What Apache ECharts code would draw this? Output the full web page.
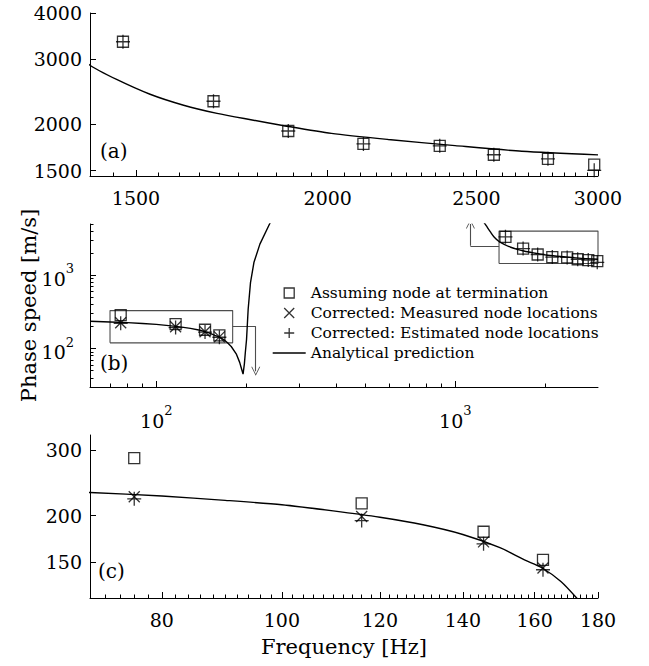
<!DOCTYPE html>
<html><head><meta charset="utf-8">
<script src="https://cdn.jsdelivr.net/npm/echarts@6/dist/echarts.min.js"></script>
<style>html,body{margin:0;padding:0;background:#fff}#c{width:649px;height:666px}</style>
</head><body><div id="c"></div>
<script>
// ---------------- data (Hz, m/s) ----------------
const hfFreq        = [1471, 1685, 1885, 2110, 2366, 2566, 2783, 2983];
const hfAssumed     = [3344, 2309, 1919, 1770, 1750, 1655, 1614, 1556];
const hfEstimated   = [3344, 2309, 1919, 1770, 1750, 1655, 1614, 1502];

const lfFreq        = [76, 116, 145.5, 162.5];
const lfAssumed     = [286, 216, 181, 152];
const lfMeasured    = [225, 199, 170, 144.5];
const lfEstimated   = [222, 194, 168, 143];

const lowBranchFreq  = [60, 70, 80, 90, 100, 110, 120, 130, 140, 150, 157, 162, 168, 173, 178, 185, 190, 193, 195, 197, 198.5, 200.3, 202.8, 206.5, 212, 222, 240, 250];
const lowBranchSpeed = [236, 231, 226, 220, 214, 206, 198, 189, 178, 164, 152, 145, 133, 120, 107, 85, 65, 52, 45, 62, 90, 133, 342, 794, 1493, 2660, 5150, 6500];
const highBranchFreq  = [1230, 1270, 1310, 1350, 1400, 1457, 1532, 1611, 1694, 1782, 1873, 2011, 2190, 2421, 2676, 3000];
const highBranchSpeed = [5700, 4700, 3900, 3300, 2890, 2645, 2412, 2253, 2141, 2058, 1983, 1890, 1820, 1752, 1692, 1654];

// axis ranges
const rangeAx = [1400, 3000], rangeAy = [1450, 4000];
const rangeBx = [60, 3000],   rangeBy = [30, 5000];
const rangeCx = [70, 180],    rangeCy = [120, 330];

// tick values
const ticksAxMajor = [1500, 2000, 2500, 3000];
const ticksAyMajor = [1500, 2000, 3000, 4000];
const ticksBxMajor = [100, 1000];
const ticksBxMinor = [70, 80, 90, 200, 300, 400, 500, 600, 700, 800, 900, 2000];
const ticksByMajor = [100, 1000];
const ticksByMinor = [40, 50, 60, 70, 80, 90, 200, 300, 400, 500, 600, 700, 800, 900, 2000, 3000, 4000, 5000];
const ticksCxMajor = [80, 100, 120, 140, 160, 180];
const ticksCyMajor = [150, 200, 300];
const ticksAxMinor = [];
for (let f = 1450; f < 3000; f += 50) if (f % 500 !== 0) ticksAxMinor.push(f);
const ticksCxMinor = [];
for (let f = 72; f < 180; f += 2) if (f % 20 !== 0) ticksCxMinor.push(f);

// zoom-box arrows in panel (b)
const arrowToCFreq = [180, 215, 215], arrowToCSpeed = [202, 202, 49];
const arrowToAFreq = [1400, 1123, 1123], arrowToASpeed = [2518, 2518, 5000];

// ---------------- helpers ----------------
const L = v => Math.log10(v);
const xy = (xs, ys) => xs.map((x, i) => [L(x), L(ys[i])]);
const FONT = 'DejaVu Serif';
const BLACK = '#000';
const GRAY = '#4d4d4d';
const SQ = 'path://M0,0L10,0L10,10L0,10Z';
const XS = 'path://M0,0L10,10M10,0L0,10';
const PL = 'path://M5,0L5,10M0,5L10,5';
const ARROW = 'path://M0,10L5,0L10,10L9,10L5,2L1,10Z';
const MK = {color: 'transparent', borderColor: BLACK, borderWidth: 1.3};
const RICH = {
  b: {fontFamily: FONT, fontSize: 19, color: BLACK, padding: [7, 0, 0, 0]},
  s: {fontFamily: FONT, fontSize: 13, color: BLACK, verticalAlign: 'top'}
};
const fmtLin = v => String(Math.round(Math.pow(10, v)));
const fmtExp = v => '{b|10}{s|' + Math.round(v) + '}';

function majorAxis(dim, g, range, majors, fmt, margin, extra) {
  return Object.assign({
    type: 'value', gridIndex: g, min: L(range[0]), max: L(range[1]),
    position: dim === 'x' ? 'bottom' : 'left',
    axisLine: {show: true, onZero: false, lineStyle: {color: BLACK, width: 1}},
    axisTick: {show: true, inside: true, length: 6, customValues: majors.map(L), lineStyle: {color: BLACK, width: 1}},
    axisLabel: {show: true, customValues: majors.map(L), formatter: fmt, margin: margin,
      color: BLACK, fontFamily: FONT, fontSize: 19, rich: RICH},
    splitLine: {show: false}
  }, extra || {});
}
function minorAxis(dim, g, range, minors) {
  return {
    type: 'value', gridIndex: g, min: L(range[0]), max: L(range[1]),
    position: dim === 'x' ? 'bottom' : 'left', offset: 0,
    axisLine: {show: false, onZero: false},
    axisTick: {show: minors.length > 0, inside: true, length: 3.5, customValues: minors.map(L), lineStyle: {color: BLACK, width: 1}},
    axisLabel: {show: false}, splitLine: {show: false}
  };
}
function segs(fs, vs) {
  const out = [];
  for (let i = 0; i < fs.length - 1; i++) out.push({coords: [[L(fs[i]), L(vs[i])], [L(fs[i + 1]), L(vs[i + 1])]]});
  return out;
}
function box(rx, ry) {
  return [[rx[0], ry[0]], [rx[1], ry[0]], [rx[1], ry[1]], [rx[0], ry[1]], [rx[0], ry[0]]].map(p => [L(p[0]), L(p[1])]);
}

const NAME_SQ = 'Assuming node at termination';
const NAME_X = 'Corrected: Measured node locations';
const NAME_PL = 'Corrected: Estimated node locations';
const NAME_LINE = 'Analytical prediction';

function curve(name, xi, yi, fs, vs, smooth) {
  return {type: 'line', name: name, xAxisIndex: xi, yAxisIndex: yi, data: xy(fs, vs), symbol: 'none',
    smooth: smooth || false,
    itemStyle: {color: BLACK},
    lineStyle: {color: BLACK, width: 1.4}, clip: true, silent: true, z: 2, animation: false};
}
function marks(name, xi, yi, fs, vs, sym, size) {
  return {type: 'scatter', name: name, xAxisIndex: xi, yAxisIndex: yi, data: xy(fs, vs), symbol: sym,
    symbolSize: size, itemStyle: MK, z: 3, silent: true};
}

const chart = echarts.init(document.getElementById('c'), null, {renderer: 'svg'});
chart.setOption({
  animation: false,
  backgroundColor: '#fff',
  grid: [
    {left: 90, right: 51, top: 13, height: 163},
    {left: 90, right: 51, top: 224, height: 163},
    {left: 90, right: 51, top: 435, height: 163}
  ],
  xAxis: [
    majorAxis('x', 0, rangeAx, ticksAxMajor, fmtLin, 12),
    minorAxis('x', 0, rangeAx, ticksAxMinor),
    majorAxis('x', 1, rangeBx, ticksBxMajor, fmtExp, 17),
    minorAxis('x', 1, rangeBx, ticksBxMinor),
    majorAxis('x', 2, rangeCx, ticksCxMajor, fmtLin, 12, {
      name: 'Frequency [Hz]', nameLocation: 'middle', nameGap: 38,
      nameTextStyle: {fontFamily: FONT, fontSize: 21, color: BLACK}}),
    minorAxis('x', 2, rangeCx, ticksCxMinor)
  ],
  yAxis: [
    majorAxis('y', 0, rangeAy, ticksAyMajor, fmtLin, 8),
    minorAxis('y', 0, rangeAy, []),
    majorAxis('y', 1, rangeBy, ticksByMajor, fmtExp, 16, {
      name: 'Phase speed [m/s]', nameLocation: 'middle', nameGap: 51, nameMoveOverlap: false,
      nameTextStyle: {fontFamily: FONT, fontSize: 21, color: BLACK}}),
    minorAxis('y', 1, rangeBy, ticksByMinor),
    majorAxis('y', 2, rangeCy, ticksCyMajor, fmtLin, 8),
    minorAxis('y', 2, rangeCy, [])
  ],
  legend: {
    show: true, orient: 'vertical', left: 272, top: 285, padding: 0,
    itemWidth: 33, itemHeight: 10, itemGap: 4, selectedMode: false,
    textStyle: {fontFamily: FONT, fontSize: 15.5, color: BLACK},
    data: [
      {name: NAME_SQ, icon: SQ, itemStyle: {color: 'transparent', borderColor: BLACK, borderWidth: 1.3}},
      {name: NAME_X, icon: XS, itemStyle: {color: 'transparent', borderColor: BLACK, borderWidth: 1.3}},
      {name: NAME_PL, icon: PL, itemStyle: {color: 'transparent', borderColor: BLACK, borderWidth: 1.3}},
      {name: NAME_LINE, itemStyle: {opacity: 0}, lineStyle: {color: BLACK, width: 1.4}}
    ]
  },
  graphic: [
    {type: 'text', left: 100, top: 141, silent: true, style: {text: '(a)', font: '20px "DejaVu Serif"', fill: BLACK}},
    {type: 'text', left: 100, top: 353, silent: true, style: {text: '(b)', font: '20px "DejaVu Serif"', fill: BLACK}},
    {type: 'text', left: 98, top: 561, silent: true, style: {text: '(c)', font: '20px "DejaVu Serif"', fill: BLACK}}
  ],
  series: [
    // (a)
    curve(NAME_LINE, 0, 0, highBranchFreq, highBranchSpeed, 0.25),
    marks(NAME_SQ, 0, 0, hfFreq, hfAssumed, SQ, 11),
    marks(NAME_PL, 0, 0, hfFreq, hfEstimated, PL, 14),
    // (b)
    curve(NAME_LINE, 2, 2, lowBranchFreq, lowBranchSpeed, 0),
    curve(NAME_LINE, 2, 2, highBranchFreq, highBranchSpeed, 0.25),
    {type: 'line', xAxisIndex: 2, yAxisIndex: 2, data: box(rangeCx, rangeCy), symbol: 'none', silent: true,
      lineStyle: {color: GRAY, width: 1.1}, z: 1},
    {type: 'line', xAxisIndex: 2, yAxisIndex: 2, data: box(rangeAx, rangeAy), symbol: 'none', silent: true,
      lineStyle: {color: GRAY, width: 1.1}, z: 1},
    {type: 'lines', coordinateSystem: 'cartesian2d', xAxisIndex: 2, yAxisIndex: 2, silent: true,
      data: [segs(arrowToCFreq, arrowToCSpeed)[0], segs(arrowToAFreq, arrowToASpeed)[0]],
      symbol: 'none', lineStyle: {color: GRAY, width: 1.1, opacity: 1}, z: 1},
    {type: 'lines', coordinateSystem: 'cartesian2d', xAxisIndex: 2, yAxisIndex: 2, silent: true,
      data: [segs(arrowToCFreq, arrowToCSpeed)[1], segs(arrowToAFreq, arrowToASpeed)[1]],
      symbol: ['none', ARROW], symbolSize: 9, lineStyle: {color: GRAY, width: 1.1, opacity: 1}, z: 1},
    marks(NAME_SQ, 2, 2, hfFreq.concat(lfFreq), hfAssumed.concat(lfAssumed), SQ, 11),
    marks(NAME_X, 2, 2, lfFreq, lfMeasured, XS, 11),
    marks(NAME_PL, 2, 2, hfFreq.concat(lfFreq), hfEstimated.concat(lfEstimated), PL, 14),
    // (c)
    curve(NAME_LINE, 4, 4, lowBranchFreq, lowBranchSpeed, 0.25),
    marks(NAME_SQ, 4, 4, lfFreq, lfAssumed, SQ, 11),
    marks(NAME_X, 4, 4, lfFreq, lfMeasured, XS, 11),
    marks(NAME_PL, 4, 4, lfFreq, lfEstimated, PL, 14)
  ]
});
</script>
</body></html>
